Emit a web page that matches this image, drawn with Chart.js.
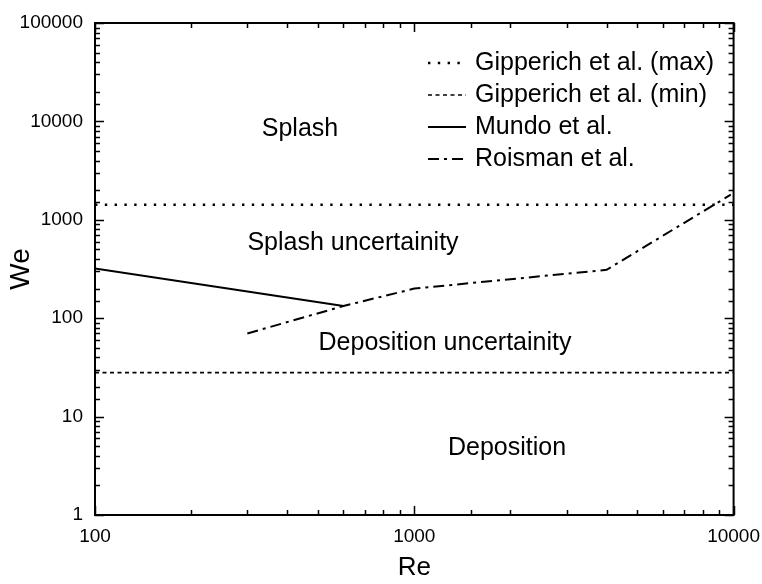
<!DOCTYPE html>
<html>
<head>
<meta charset="utf-8">
<script src="https://cdn.jsdelivr.net/npm/chart.js@4"></script>
<style>
  html, body { margin: 0; padding: 0; background: #fff; }
  #wrap { width: 762px; height: 584px; position: relative; }
</style>
</head>
<body>
<div id="wrap"><canvas id="c" width="762" height="584"></canvas></div>
<script>
// ---- data ----
const seriesNames = ['Gipperich et al. (max)', 'Gipperich et al. (min)', 'Mundo et al.', 'Roisman et al.'];
const gipMaxRe = [100, 10000];
const gipMaxWe = [1420, 1420];
const gipMinRe = [100, 10000];
const gipMinWe = [28, 28];
const mundoRe = [100, 600];
const mundoWe = [320, 133];
const roismanRe = [300, 600, 1000, 4000, 9800];
const roismanWe = [70, 133, 200, 310, 1800];
const xTickLabels = ['100', '1000', '10000'];
const yTickLabels = ['1', '10', '100', '1000', '10000', '100000'];
const regionLabels = ['Splash', 'Splash uncertainity', 'Deposition uncertainity', 'Deposition'];
const xTitle = 'Re';
const yTitle = 'We';

const FONT = '"Liberation Sans", Arial, Helvetica, sans-serif';
const pts = (xs, ys) => xs.map((x, i) => ({ x: x, y: ys[i] }));
const isDecade = v => Math.abs(Math.log10(v) - Math.round(Math.log10(v))) < 1e-9;
const labelFor = (v, arr) => {
  if (!isDecade(v)) return '';
  const s = String(Math.round(v));
  return arr.includes(s) ? s : '';
};

const styles = [
  { borderDash: [2.4, 7.4], borderWidth: 2.4 },
  { borderDash: [4, 3.5], borderWidth: 1.7 },
  { borderDash: [], borderWidth: 2 },
  { borderDash: [11, 5, 3, 5], borderWidth: 2 }
];
const seriesData = [pts(gipMaxRe, gipMaxWe), pts(gipMinRe, gipMinWe), pts(mundoRe, mundoWe), pts(roismanRe, roismanWe)];

const datasets = seriesNames.map((n, i) => ({
  label: n,
  data: seriesData[i],
  borderColor: '#000',
  backgroundColor: '#000',
  borderWidth: styles[i].borderWidth,
  borderDash: styles[i].borderDash,
  borderCapStyle: 'butt',
  pointRadius: 0,
  tension: 0,
  fill: false
}));

// region text placement (pixel centres)
const regionPos = [
  { x: 300, y: 129 },
  { x: 353, y: 243 },
  { x: 445, y: 343 },
  { x: 507, y: 448 }
];

const framePlugin = {
  id: 'frame',
  afterDatasetsDraw(chart) {
    const ctx = chart.ctx;
    const a = chart.chartArea;
    const xs = chart.scales.x, ys = chart.scales.y;
    ctx.save();
    ctx.strokeStyle = '#000';
    ctx.lineWidth = 2;
    ctx.setLineDash([]);
    ctx.strokeRect(a.left, a.top, a.right - a.left, a.bottom - a.top);
    ctx.lineWidth = 1.5;
    ctx.beginPath();
    xs.ticks.forEach(t => {
      const px = Math.round(xs.getPixelForValue(t.value)) + 0.5;
      const L = isDecade(t.value) ? 9 : 5;
      ctx.moveTo(px, a.bottom); ctx.lineTo(px, a.bottom - L);
      ctx.moveTo(px, a.top); ctx.lineTo(px, a.top + L);
    });
    ys.ticks.forEach(t => {
      const py = Math.round(ys.getPixelForValue(t.value)) + 0.5;
      const L = isDecade(t.value) ? 9 : 5;
      ctx.moveTo(a.left, py); ctx.lineTo(a.left + L, py);
      ctx.moveTo(a.right, py); ctx.lineTo(a.right - L, py);
    });
    ctx.stroke();

    // region labels
    ctx.fillStyle = '#000';
    ctx.font = '25px ' + FONT;
    ctx.textAlign = 'center';
    ctx.textBaseline = 'middle';
    regionLabels.forEach((s, i) => {
      ctx.fillText(s, regionPos[i].x, regionPos[i].y);
    });

    // legend
    const lx0 = 428, lx1 = 466, tx = 475, y0 = 63, dy = 32;
    chart.data.datasets.forEach((d, i) => {
      const y = y0 + i * dy;
      ctx.beginPath();
      ctx.lineWidth = d.borderWidth;
      ctx.setLineDash(d.borderDash || []);
      ctx.moveTo(lx0, y); ctx.lineTo(lx1, y);
      ctx.stroke();
      ctx.setLineDash([]);
      ctx.textAlign = 'left';
      ctx.fillText(d.label, tx, y);
    });

    // axis titles
    ctx.textAlign = 'center';
    ctx.font = '26px ' + FONT;
    ctx.fillText(xTitle, (a.left + a.right) / 2, 568);
    ctx.save();
    ctx.translate(21, (a.top + a.bottom) / 2);
    ctx.rotate(-Math.PI / 2);
    ctx.font = '28px ' + FONT;
    ctx.fillText(yTitle, 0, 0);
    ctx.restore();
    ctx.restore();
  }
};

new Chart(document.getElementById('c'), {
  type: 'line',
  data: { datasets: datasets },
  options: {
    responsive: false,
    animation: false,
    layout: { padding: { left: 0, top: 23, right: 27, bottom: 0 } },
    plugins: { legend: { display: false }, tooltip: { enabled: false } },
    scales: {
      x: {
        type: 'logarithmic', min: 100, max: 10000, position: 'bottom',
        grid: { display: false }, border: { display: false },
        ticks: {
          autoSkip: false, maxRotation: 0, padding: 2, color: '#000',
          font: { size: 19, family: FONT },
          callback: v => labelFor(v, xTickLabels)
        },
        afterFit: s => { s.height = 69; }
      },
      y: {
        type: 'logarithmic', min: 1, max: 100000, position: 'left',
        grid: { display: false }, border: { display: false },
        ticks: {
          autoSkip: false, padding: 4, color: '#000',
          font: { size: 19, family: FONT },
          callback: v => labelFor(v, yTickLabels)
        },
        afterFit: s => { s.width = 95; }
      }
    }
  },
  plugins: [framePlugin]
});
</script>
</body>
</html>
